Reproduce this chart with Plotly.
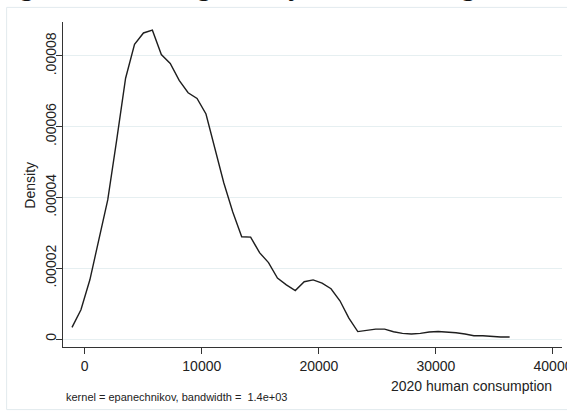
import plotly.graph_objects as go

# Kernel density estimate evaluation points
consumption = [-1086, -323, 440, 1203, 1966, 2729, 3491, 4254, 5017, 5780,
               6543, 7306, 8069, 8832, 9595, 10358, 11120, 11883, 12646, 13409,
               14172, 14935, 15698, 16461, 17224, 17987, 18749, 19512, 20275, 21038,
               21801, 22564, 23327, 24090, 24853, 25616, 26378, 27141, 27904, 28667,
               29430, 30193, 30956, 31719, 32482, 33245, 34007, 34770, 35533, 36296]
density = [0.327e-5, 0.827e-5, 1.673e-5, 2.80e-5, 3.93e-5, 5.62e-5, 7.37e-5, 8.33e-5, 8.65e-5, 8.73e-5,
           8.04e-5, 7.79e-5, 7.31e-5, 6.96e-5, 6.80e-5, 6.36e-5, 5.40e-5, 4.41e-5, 3.59e-5, 2.89e-5,
           2.88e-5, 2.44e-5, 2.16e-5, 1.72e-5, 1.53e-5, 1.37e-5, 1.62e-5, 1.67e-5, 1.58e-5, 1.42e-5,
           1.08e-5, 0.59e-5, 0.21e-5, 0.25e-5, 0.28e-5, 0.28e-5, 0.206e-5, 0.158e-5, 0.141e-5, 0.158e-5,
           0.197e-5, 0.214e-5, 0.206e-5, 0.178e-5, 0.141e-5, 0.093e-5, 0.093e-5, 0.070e-5, 0.056e-5, 0.056e-5]

x_tickvals = [0, 10000, 20000, 30000, 40000]
x_ticktext = ["0", "10000", "20000", "30000", "40000"]
y_tickvals = [0, 0.00002, 0.00004, 0.00006, 0.00008]
y_ticktext = ["0", ".00002", ".00004", ".00006", ".00008"]

y_title = "Density"
x_title = "2020 human consumption"
note = "kernel = epanechnikov, bandwidth =\u00a0\u00a01.4e+03"
top_text = "figure.1,\u00a0 which\u00a0 generally\u00a0 follows\u00a0 a\u00a0 right-skewed\u00a0 distribution"

FONT = "Liberation Sans, Arial, sans-serif"
INK = "#222222"

fig = go.Figure()
fig.add_trace(go.Scatter(
    x=consumption, y=density, mode="lines",
    line=dict(color="#1e1e1e", width=1.4),
    hoverinfo="skip", showlegend=False,
))

fig.update_layout(
    width=567, height=413,
    margin=dict(l=63, r=5, t=22, b=66),
    paper_bgcolor="white", plot_bgcolor="white",
    font=dict(family=FONT, size=14, color=INK),
    showlegend=False,
)
fig.update_xaxes(
    range=[-1856, 40770], automargin=False,
    tickvals=x_tickvals, ticktext=x_ticktext,
    ticklabeloverflow="allow",
    showgrid=False, zeroline=False,
    showline=True, linecolor="#333333", linewidth=1,
    ticks="outside", ticklen=6, tickcolor="#333333",
    tickfont=dict(family=FONT, size=14, color=INK),
)
fig.update_yaxes(
    range=[-2.26e-6, 8.96e-5], automargin=False,
    tickvals=y_tickvals, ticktext=y_ticktext,
    tickangle=-90, ticklabelstandoff=-6,
    showgrid=True, gridcolor="#e6eff1", gridwidth=1,
    zeroline=False,
    showline=True, linecolor="#333333", linewidth=1,
    ticks="outside", ticklen=6, tickcolor="#333333",
    tickfont=dict(family=FONT, size=14, color=INK),
)

fig.add_annotation(text=y_title, xref="paper", yref="paper",
                   x=-0.0668, y=0.4985, xanchor="center", yanchor="middle",
                   textangle=-90, showarrow=False,
                   font=dict(family=FONT, size=14, color=INK))
fig.add_annotation(text=x_title, xref="paper", yref="paper",
                   x=0.9831, y=-0.121, xanchor="right", yanchor="middle",
                   showarrow=False, font=dict(family=FONT, size=14, color=INK))
fig.add_annotation(text=note, xref="paper", yref="paper",
                   x=0.002, y=-0.1526, xanchor="left", yanchor="middle",
                   showarrow=False, font=dict(family=FONT, size=11, color=INK))
fig.add_annotation(text=top_text, xref="paper", yref="paper",
                   x=-0.127, y=1.0575, xanchor="left", yanchor="bottom",
                   showarrow=False,
                   font=dict(family="Liberation Serif, Times New Roman, serif", size=28.5, color="#111111"))

fig.add_shape(type="rect", xref="paper", yref="paper",
              x0=-0.113, x1=1.03, y0=-0.1926, y1=1.045,
              line=dict(color="#e2eaee", width=1), layer="below")

fig.write_html("out.html", config={"displayModeBar": False},
               post_script="document.body.style.margin='0';document.body.style.overflow='hidden';")
